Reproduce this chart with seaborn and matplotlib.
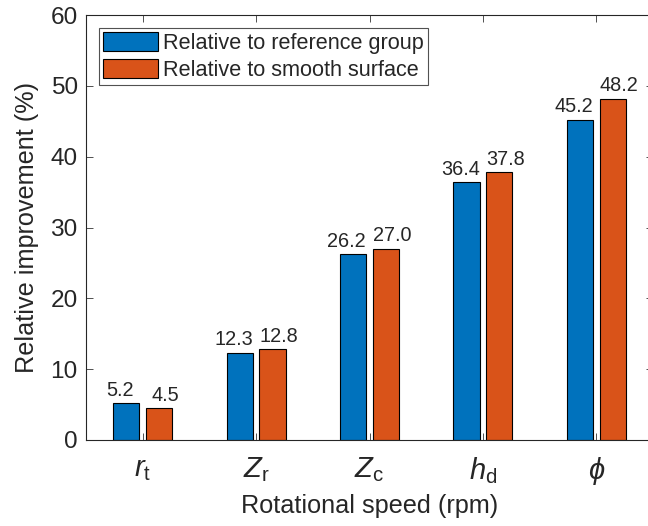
import matplotlib
matplotlib.use("Agg")
import matplotlib.pyplot as plt
import seaborn as sns
import pandas as pd

categories = [r"$r_\mathrm{t}$", r"$Z_\mathrm{r}$", r"$Z_\mathrm{c}$", r"$h_\mathrm{d}$", r"$\phi$"]
series_names = ["Relative to reference group", "Relative to smooth surface"]
ref_group = [5.2, 12.3, 26.2, 36.4, 45.2]
smooth_surface = [4.5, 12.8, 27.0, 37.8, 48.2]
y_ticks = [0, 10, 20, 30, 40, 50, 60]
colors = ["#0072BD", "#D95319"]

sns.set_theme(style="white")
plt.rcParams["font.family"] = ["Liberation Sans", "DejaVu Sans"]
plt.rcParams["mathtext.fontset"] = "custom"
plt.rcParams["mathtext.rm"] = "Liberation Sans"
plt.rcParams["mathtext.it"] = "Liberation Sans:italic"

df = pd.DataFrame({
    "cat": categories * 2,
    "val": ref_group + smooth_surface,
    "series": [series_names[0]] * 5 + [series_names[1]] * 5,
})

fig = plt.figure(figsize=(6.48, 5.26), dpi=100)
ax = fig.add_axes([86 / 648, 86 / 526, (653 - 86) / 648, (440 - 15) / 526])

sns.barplot(data=df, x="cat", y="val", hue="series", palette=colors,
            width=0.58, gap=0.2, edgecolor="black", linewidth=0.8,
            saturation=1, ax=ax)

shifts = [-4.5, 4.5]
for c, dx in zip(ax.containers, shifts):
    anns = ax.bar_label(c, fmt="%.1f", fontsize=14.3, padding=2.5)
    for a in anns:
        a.xyann = (dx, 2.5)

ax.set_xlim(-0.5, 4.5)
ax.set_ylim(0, 60)
ax.set_yticks(y_ticks)
ax.set_xlabel("Rotational speed (rpm)", fontsize=18.2, labelpad=5)
ax.set_ylabel("Relative improvement (%)", fontsize=18.2, labelpad=8)
ax.tick_params(axis="both", direction="in", length=5, width=0.6, color="#333333",
               labelsize=17.6, top=True, right=True, bottom=True, left=True, pad=6)
ax.tick_params(axis="x", labelsize=21, pad=11)
for s in ax.spines.values():
    s.set_visible(True)
    s.set_color("#262626")
    s.set_linewidth(0.8)

leg = ax.legend(loc="upper left", bbox_to_anchor=(0.023, 0.970), fontsize=15.6,
                frameon=True, fancybox=False, edgecolor="#262626",
                handlelength=2.5, handleheight=0.95, handletextpad=0.25,
                borderpad=0.2, labelspacing=0.25, borderaxespad=0.0)
leg.get_frame().set_linewidth(0.8)

fig.savefig("out.png", dpi=100)
